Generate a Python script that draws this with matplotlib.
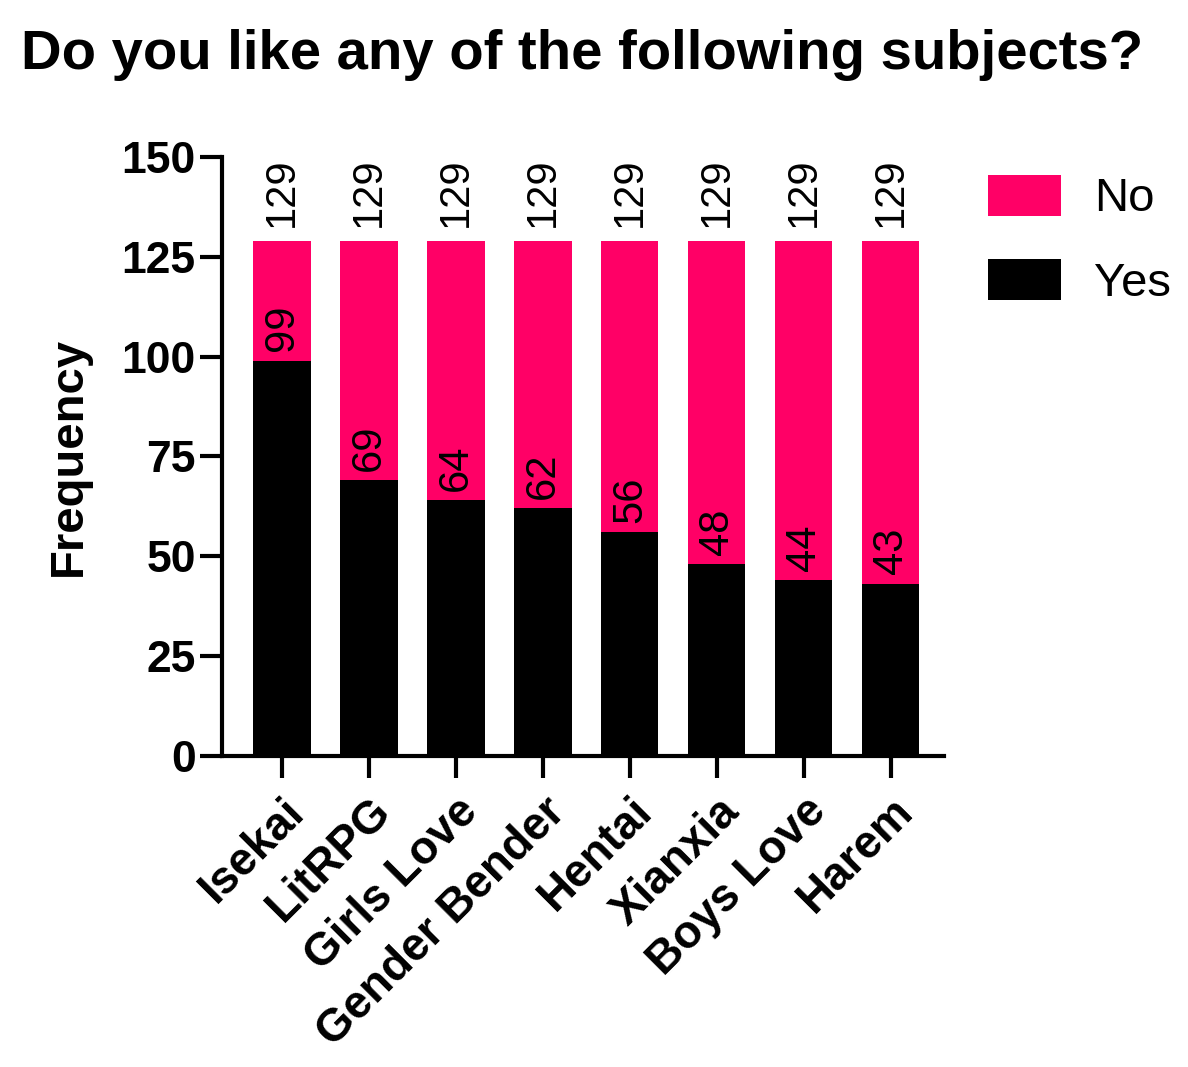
import matplotlib.pyplot as plt
import numpy as np

plt.rcParams['font.family'] = ['Liberation Sans', 'DejaVu Sans']

subjects = ['Isekai', 'LitRPG', 'Girls Love', 'Gender Bender', 'Hentai', 'Xianxia', 'Boys Love', 'Harem']
yes = [99, 69, 64, 62, 56, 48, 44, 43]
total = [129, 129, 129, 129, 129, 129, 129, 129]
no = [t - y for t, y in zip(total, yes)]

pink = '#FF0066'

fig = plt.figure(figsize=(11.88, 10.67), dpi=100)
ax = fig.add_axes([0.187, 0.2915, 0.608, 0.5615])

x = np.arange(len(subjects))
w = 0.66
ax.bar(x, yes, w, color='black', label='Yes')
ax.bar(x, no, w, bottom=yes, color=pink, label='No')

# value labels: yes count just above the black part, total above the bar
for i in range(len(subjects)):
    ax.annotate(str(yes[i]), (x[i], yes[i]), xytext=(0, 7), textcoords='offset points',
                rotation=90, ha='center', va='bottom', fontsize=30)
    ax.annotate(str(total[i]), (x[i], total[i]), xytext=(0, 10), textcoords='offset points',
                rotation=90, ha='center', va='bottom', fontsize=30)

ax.set_xlim(-0.69, 7.62)
ax.set_ylim(0, 150)
ax.set_yticks([0, 25, 50, 75, 100, 125, 150])
ax.set_xticks(x)
ax.set_xticklabels(subjects, rotation=45, ha='right', rotation_mode='anchor', fontsize=33, fontweight='bold')
for lab in ax.get_yticklabels():
    lab.set_fontsize(32)
    lab.set_fontweight('bold')

for s in ['top', 'right']:
    ax.spines[s].set_visible(False)
for s in ['left', 'bottom']:
    ax.spines[s].set_linewidth(3)
ax.tick_params(axis='both', width=3, length=16, pad=3)
ax.tick_params(axis='x', pad=8)

ax.set_ylabel('Frequency', fontsize=34, fontweight='bold', labelpad=22)

h, l = ax.get_legend_handles_labels()
ax.legend(h[::-1], l[::-1], loc='upper left', bbox_to_anchor=(1.06, 0.97), frameon=False,
          fontsize=34, handlelength=1.55, handleheight=0.95, labelspacing=0.8, handletextpad=0.7,
          borderpad=0, borderaxespad=0)

fig.text(0.018, 0.948, 'Do you like any of the following subjects?', fontsize=40.5, fontweight='bold',
         ha='left', va='center')

fig.savefig('out.png', dpi=100)
